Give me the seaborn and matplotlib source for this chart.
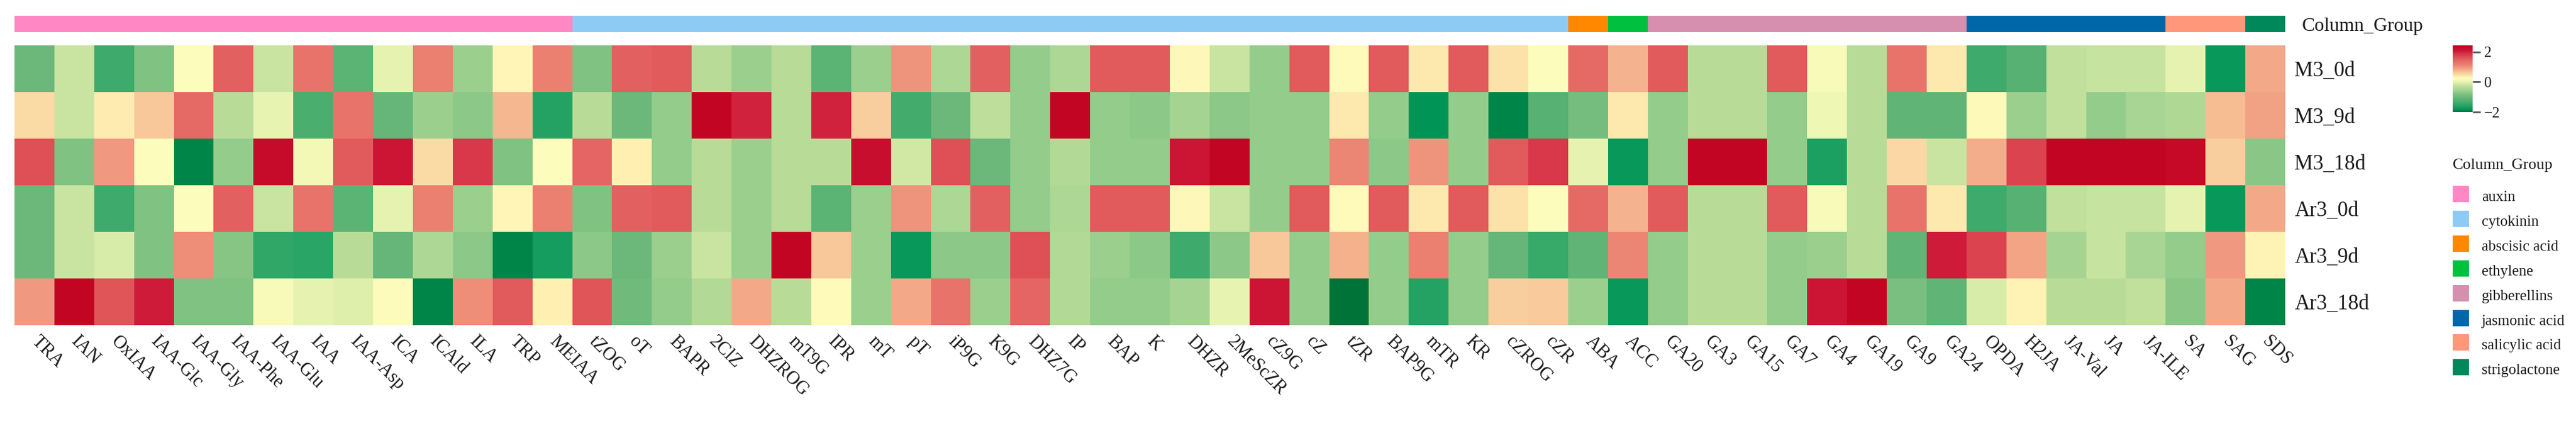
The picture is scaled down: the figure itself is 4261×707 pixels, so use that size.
import numpy as np
import pandas as pd
import matplotlib
matplotlib.use("Agg")
import matplotlib.pyplot as plt
import seaborn as sns
from matplotlib.colors import LinearSegmentedColormap, ListedColormap
from matplotlib.patches import Rectangle
from matplotlib.transforms import ScaledTranslation

# ---------------- data ----------------
compounds = ["TRA", "IAN", "OxIAA", "IAA-Glc", "IAA-Gly", "IAA-Phe", "IAA-Glu", "IAA",
             "IAA-Asp", "ICA", "ICAld", "ILA", "TRP", "MEIAA",
             "tZOG", "oT", "BAPR", "2ClZ", "DHZROG", "mT9G", "IPR", "mT", "pT", "iP9G",
             "K9G", "DHZ7G", "IP", "BAP", "K", "DHZR", "2MeScZR", "cZ9G", "cZ", "tZR",
             "BAP9G", "mTR", "KR", "cZROG", "cZR",
             "ABA", "ACC",
             "GA20", "GA3", "GA15", "GA7", "GA4", "GA19", "GA9", "GA24",
             "OPDA", "H2JA", "JA-Val", "JA", "JA-ILE",
             "SA", "SAG", "SDS"]

samples = ["M3_0d", "M3_9d", "M3_18d", "Ar3_0d", "Ar3_9d", "Ar3_18d"]

m3_0d = [-1.0, -0.2, -1.4, -0.8, 0.24, 1.5, -0.2, 1.3, -1.15, 0.0, 1.15, -0.6, 0.3, 1.15,
         -0.8, 1.5, 1.55, -0.35, -0.6, -0.35, -1.15, -0.6, 1.0, -0.45, 1.5, -0.65, -0.45,
         1.55, 1.55, 0.28, -0.2, -0.65, 1.55, 0.26, 1.55, 0.4, 1.55, 0.45, 0.24,
         1.4, 0.78,
         1.55, -0.35, -0.35, 1.55, 0.18, -0.35, 1.3, 0.4,
         -1.4, -1.2, -0.27, -0.22, -0.22,
         0.0, -1.8, 0.85]
m3_9d = [0.5, -0.2, 0.38, 0.65, 1.4, -0.35, 0.02, -1.3, 1.3, -1.05, -0.6, -0.7, 0.75, -1.6,
         -0.35, -1.0, -0.65, 2.35, 2.0, -0.35, 2.0, 0.6, -1.35, -1.0, -0.3, -0.65, 2.35,
         -0.65, -0.7, -0.5, -0.7, -0.65, -0.65, 0.4, -0.65, -1.85, -0.65, -1.9, -1.2,
         -0.9, 0.4,
         -0.65, -0.35, -0.35, -0.65, 0.1, -0.35, -1.1, -1.1,
         0.27, -0.6, -0.27, -0.65, -0.48,
         -0.42, 0.72, 0.9]
m3_18d = [1.65, -0.8, 0.95, 0.24, -1.9, -0.65, 2.25, 0.15, 1.55, 2.1, 0.5, 1.85, -0.8, 0.24,
          1.45, 0.35, -0.65, -0.35, -0.6, -0.35, -0.35, 2.2, -0.15, 1.65, -1.0, -0.65, -0.4,
          -0.65, -0.65, 2.1, 2.35, -0.65, -0.65, 1.1, -0.7, 1.0, -0.65, 1.55, 1.85,
          0.0, -1.8,
          -0.65, 2.35, 2.35, -0.65, -1.65, -0.35, 0.52, -0.2,
          0.82, 1.75, 2.35, 2.35, 2.35,
          2.3, 0.6, -0.72]
ar3_0d = [-1.0, -0.2, -1.4, -0.8, 0.24, 1.5, -0.2, 1.3, -1.15, 0.0, 1.15, -0.6, 0.3, 1.15,
          -0.8, 1.5, 1.55, -0.35, -0.6, -0.35, -1.15, -0.6, 1.0, -0.45, 1.5, -0.65, -0.45,
          1.55, 1.55, 0.28, -0.2, -0.65, 1.55, 0.26, 1.55, 0.4, 1.55, 0.45, 0.24,
          1.4, 0.78,
          1.55, -0.35, -0.35, 1.55, 0.18, -0.35, 1.3, 0.4,
          -1.4, -1.2, -0.27, -0.22, -0.22,
          0.0, -1.8, 0.85]
ar3_9d = [-1.0, -0.2, -0.1, -0.8, 1.05, -0.75, -1.5, -1.55, -0.35, -1.05, -0.45, -0.7, -1.9, -1.7,
          -0.7, -1.0, -0.6, -0.2, -0.6, 2.35, 0.65, -0.6, -1.8, -0.7, -0.7, 1.65, -0.4,
          -0.6, -0.7, -1.4, -0.7, 0.65, -0.65, 0.8, -0.65, 1.15, -0.65, -1.05, -1.45,
          -1.1, 1.1,
          -0.65, -0.35, -0.35, -0.65, -0.6, -0.35, -1.1, 2.05,
          1.75, 0.88, -0.5, -0.22, -0.48,
          -0.65, 0.95, 0.33]
ar3_18d = [0.95, 2.35, 1.6, 2.05, -0.8, -0.8, 0.2, 0.0, -0.05, 0.25, -1.9, 1.05, 1.55, 0.35,
           1.6, -0.95, -0.65, -0.4, 0.85, -0.35, 0.26, -0.6, 0.85, 1.3, -0.6, 1.45, -0.4,
           -0.65, -0.65, -0.5, 0.02, 2.1, -0.65, -1.96, -0.65, -1.6, -0.65, 0.6, 0.62,
           -0.6, -1.8,
           -0.65, -0.35, -0.35, -0.65, 2.1, 2.35, -0.85, -1.1,
           -0.1, 0.33, -0.35, -0.35, -0.27,
           -0.72, 0.85, -1.9]

group_names = ["auxin", "cytokinin", "abscisic acid", "ethylene", "gibberellins",
               "jasmonic acid", "salicylic acid", "strigolactone"]
group_counts = [14, 25, 1, 1, 8, 5, 2, 1]
group_colors = ["#FF88C4", "#8ECBF4", "#FF8800", "#00C040", "#D68FAE",
                "#0068A8", "#FF977A", "#00875A"]

# ---------------- style ----------------
sns.set_style("white")
plt.rcParams["font.family"] = ["Liberation Serif", "DejaVu Serif"]
txt = "#1a1a1a"

W, H = 4261, 707
fig = plt.figure(figsize=(W / 100, H / 100), dpi=100)


def ax_px(l, t, r, b):
    return fig.add_axes([l / W, 1 - b / H, (r - l) / W, (b - t) / H])


ax = ax_px(24, 75, 3780, 537)
bax = ax_px(24, 26, 3780, 53)
cax = ax_px(4057, 75, 4090, 185)

df = pd.DataFrame([m3_0d, m3_9d, m3_18d, ar3_0d, ar3_9d, ar3_18d],
                  index=samples, columns=compounds)

vmin, vmax = -2.0, 2.44
stops = [(-2.00, "#006830"), (-1.85, "#009658"), (-1.55, "#2AA566"), (-1.30, "#4BAE6E"),
         (-1.00, "#6BB87A"), (-0.80, "#80C282"), (-0.60, "#9ACF8E"), (-0.35, "#B8DC98"),
         (-0.20, "#C8E4A0"), (0.00, "#E6F3B0"), (0.24, "#FCFCBC"), (0.35, "#FFF0B2"),
         (0.50, "#FADAA5"), (0.65, "#F8C79A"), (0.75, "#F5B890"), (0.95, "#F09A80"),
         (1.15, "#EB8070"), (1.30, "#E8736A"), (1.50, "#E36060"), (1.65, "#DE5055"),
         (1.85, "#D8384A"), (2.10, "#CC1535"), (2.44, "#C0001E")]
cmap = LinearSegmentedColormap.from_list(
    "hm", [((v - vmin) / (vmax - vmin), c) for v, c in stops], N=512)

sns.heatmap(df, ax=ax, cmap=cmap, vmin=vmin, vmax=vmax, cbar_ax=cax,
            linewidths=0, xticklabels=True, yticklabels=True)

# row labels on the right
ax.yaxis.tick_right()
ax.set_yticklabels(samples, rotation=0, fontsize=25, color=txt)
ax.tick_params(axis="y", length=0, pad=11, left=False, right=False,
               labelleft=False, labelright=True)

# column labels
ax.set_xticklabels(compounds, rotation=-45, ha="left", va="top",
                   rotation_mode="anchor", fontsize=22, color=txt)
ax.tick_params(axis="x", length=0, pad=9)
offset = ScaledTranslation(0.10, 0, fig.dpi_scale_trans)
for lab in ax.get_xticklabels():
    lab.set_transform(lab.get_transform() + offset)
ax.set_xlabel("")
ax.set_ylabel("")

# colorbar
cbar = ax.collections[0].colorbar
cbar.set_ticks([2, 0, -2])
cbar.outline.set_visible(False)
cax.tick_params(length=9.4, width=2, color="#555555", labelsize=18,
                pad=4, labelcolor=txt)

# column group annotation bar
codes = np.repeat(np.arange(len(group_names)), group_counts)[None, :]
sns.heatmap(codes, ax=bax, cmap=ListedColormap(group_colors), vmin=-0.5,
            vmax=len(group_names) - 0.5, cbar=False, xticklabels=False,
            yticklabels=["Column_Group"], linewidths=0)
bax.yaxis.tick_right()
bax.tick_params(axis="y", length=0, pad=20, labelsize=23, rotation=0,
                labelcolor=txt, left=False, right=False,
                labelleft=False, labelright=True)
bax.set_xlabel("")
bax.set_ylabel("")

# legend for the column groups (placed in figure pixels)
fig.text(4057 / W, 1 - 279 / H, "Column_Group", fontsize=19, color=txt,
         ha="left", va="baseline")
sw, pitch, top0 = 27, 40.9, 307
for i, (name, col) in enumerate(zip(group_names, group_colors)):
    top = top0 + pitch * i
    fig.add_artist(Rectangle((4057 / W, 1 - (top + sw) / H), sw / W, sw / H,
                             transform=fig.transFigure, facecolor=col,
                             edgecolor="none"))
    fig.text(4105 / W, 1 - (top + 25) / H, name, fontsize=18, color=txt,
             ha="left", va="baseline")

fig.savefig("out.png", dpi=100)
